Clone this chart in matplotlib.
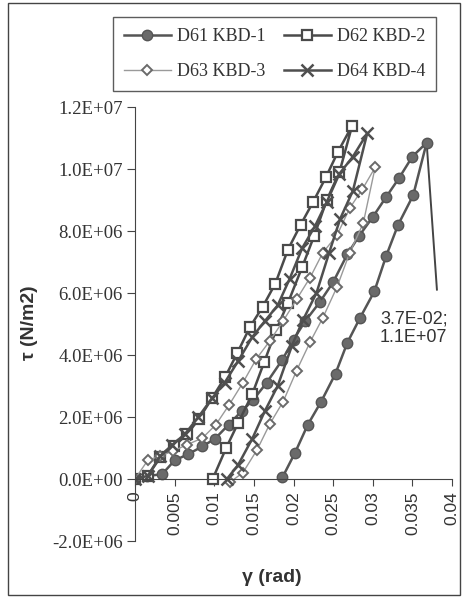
import matplotlib
matplotlib.use("Agg")
import matplotlib.pyplot as plt
from matplotlib.patches import Rectangle

serif = "Liberation Serif"
sans = "Liberation Sans"

# loading branch up to the peak, then unloading branch back to zero
d61_gamma = [0.0015, 0.0034, 0.0050, 0.0067, 0.0085, 0.0101, 0.0118, 0.0135, 0.0149, 0.0166,
             0.0186, 0.0200, 0.0215, 0.0233, 0.0250, 0.0268, 0.0283, 0.0300, 0.0317, 0.0333,
             0.0350, 0.0368,
             0.0351, 0.0332, 0.0317, 0.0302, 0.0284, 0.0268, 0.0253, 0.0235, 0.0218, 0.0202, 0.0186]
d61_tau = [0.10, 0.15, 0.60, 0.80, 1.05, 1.30, 1.75, 2.20, 2.55, 3.10,
           3.85, 4.50, 5.10, 5.70, 6.35, 7.25, 7.85, 8.45, 9.10, 9.70,
           10.40, 10.85,
           9.15, 8.20, 7.20, 6.05, 5.20, 4.40, 3.40, 2.50, 1.75, 0.85, 0.05]

d62_gamma = [0.0, 0.0016, 0.0032, 0.0049, 0.0066, 0.0081, 0.0097, 0.0114, 0.0129, 0.0145,
             0.0161, 0.0177, 0.0193, 0.0209, 0.0225, 0.0241, 0.0256, 0.0274,
             0.0258, 0.0242, 0.0226, 0.0211, 0.0193, 0.0178, 0.0163, 0.0148, 0.0130, 0.0115, 0.0098]
d62_tau = [0.0, 0.10, 0.70, 1.05, 1.45, 1.95, 2.60, 3.30, 4.06, 4.90,
           5.55, 6.30, 7.40, 8.20, 8.95, 9.74, 10.55, 11.40,
           9.90, 9.00, 7.84, 6.84, 5.68, 4.80, 3.77, 2.74, 1.80, 1.00, 0.0]

d63_gamma = [0.0, 0.0016, 0.0032, 0.0048, 0.0065, 0.0085, 0.0102, 0.0119, 0.0136, 0.0153,
             0.0170, 0.0187, 0.0204, 0.0221, 0.0237, 0.0255, 0.0271, 0.0287, 0.0303,
             0.0288, 0.0271, 0.0255, 0.0237, 0.0221, 0.0204, 0.0187, 0.0170, 0.0154, 0.0136, 0.0120]
d63_tau = [0.0, 0.60, 0.75, 0.90, 1.10, 1.32, 1.75, 2.40, 3.10, 3.87,
           4.45, 5.10, 5.80, 6.50, 7.30, 7.87, 8.74, 9.35, 10.05,
           8.25, 7.30, 6.20, 5.20, 4.42, 3.50, 2.50, 1.77, 0.94, 0.20, -0.10]

d64_gamma = [0.0, 0.0016, 0.0032, 0.0047, 0.0063, 0.0080, 0.0097, 0.0113, 0.0130, 0.0148,
             0.0164, 0.0180, 0.0195, 0.0211, 0.0227, 0.0242, 0.0258, 0.0275, 0.0293,
             0.0275, 0.0259, 0.0245, 0.0229, 0.0212, 0.0198, 0.0180, 0.0164, 0.0148, 0.0130, 0.0116]
d64_tau = [0.0, 0.10, 0.75, 1.10, 1.45, 2.00, 2.60, 3.10, 3.80, 4.58,
           5.10, 5.60, 6.45, 7.45, 8.15, 8.94, 9.85, 10.40, 11.15,
           9.30, 8.40, 7.30, 6.00, 5.13, 4.30, 3.00, 2.20, 1.30, 0.45, 0.0]

x_ticks = [0, 0.005, 0.01, 0.015, 0.02, 0.025, 0.03, 0.035, 0.04]
x_tick_labels = ["0", "0.005", "0.01", "0.015", "0.02", "0.025", "0.03", "0.035", "0.04"]
y_ticks = [-2e6, 0, 2e6, 4e6, 6e6, 8e6, 1e7, 1.2e7]

peak_label = "3.7E-02;\n1.1E+07"

fig = plt.figure(figsize=(4.65, 5.98), dpi=100)
ax = fig.add_axes([135 / 465, 1 - 541 / 598, (452 - 135) / 465, (541 - 107) / 598])

mpa = 1e6
l61, = ax.plot(d61_gamma, [t * mpa for t in d61_tau], color="#555555", lw=1.8,
               marker="o", ms=7.5, mfc="#6a6a6a", mec="#555555", label="D61 KBD-1")
l62, = ax.plot(d62_gamma, [t * mpa for t in d62_tau], color="#4a4a4a", lw=1.8,
               marker="s", ms=7, mfc="white", mec="#4a4a4a", mew=1.6, label="D62 KBD-2")
l63, = ax.plot(d63_gamma, [t * mpa for t in d63_tau], color="#9a9a9a", lw=1.0,
               marker="D", ms=5, mfc="white", mec="#6a6a6a", mew=1.4, label="D63 KBD-3")
l64, = ax.plot(d64_gamma, [t * mpa for t in d64_tau], color="#4f4f4f", lw=1.8,
               marker="x", ms=8, mec="#4f4f4f", mew=1.8, label="D64 KBD-4")

ax.set_xlim(0, 0.04)
ax.set_ylim(-2e6, 1.2e7)

ax.spines["top"].set_visible(False)
ax.spines["right"].set_visible(False)
ax.spines["bottom"].set_position(("data", 0))
ax.spines["left"].set_color("#444444")
ax.spines["bottom"].set_color("#444444")

ax.set_xticks(x_ticks)
ax.set_xticklabels(x_tick_labels, rotation=90, fontname=sans, fontsize=12.5, color="#333333")
ax.set_yticks(y_ticks)
ax.set_yticklabels(["%.1E" % v for v in y_ticks], fontname=serif, fontsize=13.5, color="#333333")
ax.tick_params(axis="x", direction="out", length=5, pad=4, color="#444444")
ax.tick_params(axis="y", direction="out", length=6, pad=3, color="#444444")

peak = d61_tau.index(max(d61_tau))
ax.annotate("", xy=(d61_gamma[peak], d61_tau[peak] * mpa), xytext=(0.0381, 6.1e6),
            arrowprops=dict(arrowstyle="-", color="#444444", lw=1.4, shrinkA=0, shrinkB=5))
ax.text(0.0309, 5.45e6, peak_label, fontname=sans, fontsize=13, color="#333333",
        ha="left", va="top", linespacing=1.15)

fig.text(30 / 465, 1 - 323 / 598, "τ (N/m2)", rotation=90, fontname=sans, fontsize=14,
         fontweight="bold", color="#333333", ha="center", va="center")
fig.text(272 / 465, 1 - 578 / 598, "γ (rad)", fontname=sans, fontsize=14,
         fontweight="bold", color="#333333", ha="center", va="center")

leg = fig.legend([l61, l63, l62, l64], ["D61 KBD-1", "D63 KBD-3", "D62 KBD-2", "D64 KBD-4"],
                 ncol=2, loc="upper left", bbox_to_anchor=(113 / 465, 1 - 17 / 598),
                 prop={"family": serif, "size": 13}, frameon=True, fancybox=False,
                 edgecolor="#333333", numpoints=1, handlelength=2.6, handletextpad=0.35,
                 columnspacing=1.0, labelspacing=1.0, borderpad=0.6, borderaxespad=0)
leg.get_frame().set_linewidth(1.0)
for t in leg.get_texts():
    t.set_color("#333333")

fig.patches.append(Rectangle((8 / 465, 3 / 598), 452 / 465, 592 / 598, transform=fig.transFigure,
                             fill=False, edgecolor="#444444", lw=1.0))

plt.savefig("out.png", dpi=100)
